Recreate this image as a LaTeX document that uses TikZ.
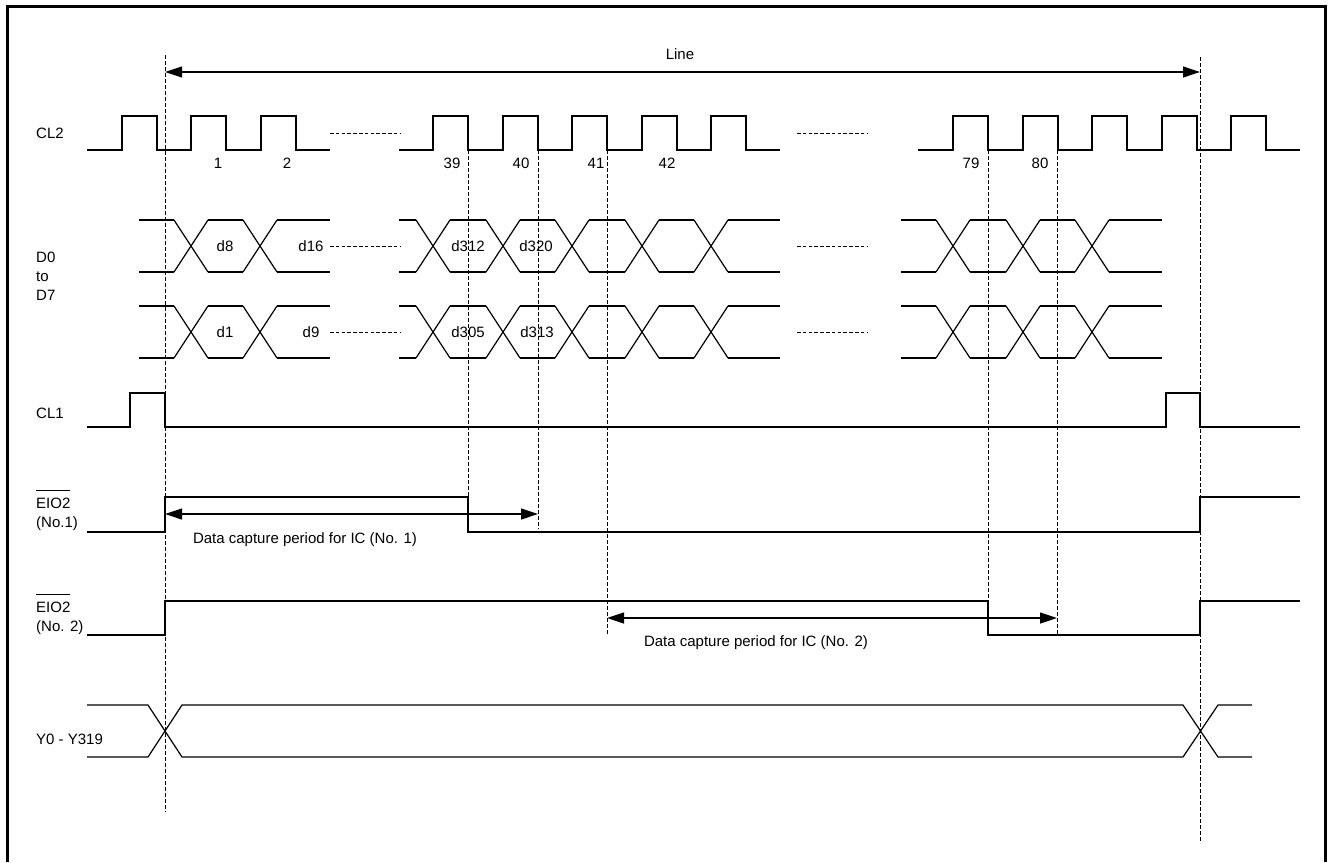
\documentclass[tikz,border=0pt]{standalone}
\usepackage{fontspec}
\setmainfont{Liberation Sans}
\usetikzlibrary{arrows.meta}
\newcommand{\barsig}[1]{\vphantom{#1}\smash{$\overline{\hbox{\rule{0pt}{16.5pt}#1}}$}}

\begin{document}
\begin{tikzpicture}[
    x=1pt, y=-1pt,
    signal/.style={line width=1.2pt, line join=miter},
    guide/.style={dash pattern=on 4pt off 2pt, line width=0.9pt},
    gap/.style={dash pattern=on 3.5pt off 2.3pt, line width=0.9pt},
    span/.style={{Triangle[length=17pt, width=11pt]}-{Triangle[length=17pt, width=11pt]}, line width=1.2pt},
    lbl/.style={font=\fontsize{15}{19}\selectfont, inner sep=0pt},
    signame/.style={lbl, anchor=west, align=left},
]
\useasboundingbox (0,0) rectangle (1330,862);
\draw[line width=3pt] (7,862) -- (7,6) -- (1325,6) -- (1325,862);

% signal names
\node[signame] (ncl2) at (36,133) {CL2};
\node[signame] (nd) at (36,276) {D0\\to\\D7};
\node[signame] (ncl1) at (36,413) {CL1};
\node[signame] (neio1) at (36,514) {\barsig{EIO2}\\(No.1)};
\node[signame] (neio2) at (36,618) {\barsig{EIO2}\\(No. 2)};
\node[signame] (ny) at (36,739) {Y0 - Y319};

% guide lines
\foreach \n/\x/\ya/\yb in {gs/165/55/812, g39/468/150/497, g40/538/150/529,
    g41/607/150/634, g79/988/150/601, g80/1057/150/634, ge/1200/57/843} {
  \coordinate (\n) at (\x,\ya);
  \draw[guide] (\x,\ya) -- (\x,\yb);
}

% CL2
\draw[signal] (87,150) foreach \r in {122,191,261} { -- (\r,150) -- (\r,116) -- (\r+35,116) -- (\r+35,150) } -- (330,150);
\draw[signal] (399,150) foreach \r in {433,503,572,642,711} { -- (\r,150) -- (\r,116) -- (\r+35,116) -- (\r+35,150) } -- (780,150);
\draw[signal] (918,150) foreach \r in {953,1023,1092,1162,1231} { -- (\r,150) -- (\r,116) -- (\r+35,116) -- (\r+35,150) } -- (1300,150);
\foreach \t/\x in {1/218, 2/287, 39/452, 40/521, 41/596, 42/667, 79/971, 80/1040}
  \node[lbl] (k\t) at (\x,163) {\t};

% D0 to D7
\foreach \t/\b in {220/272, 306/358} {
  \foreach \c in {191,260,433,503,572,642,711,953,1023,1092}
    \draw[signal] (\c-17,\t) -- (\c+17,\b) (\c-17,\b) -- (\c+17,\t);
  \foreach \s/\e in {139/174, 208/243, 277/330, 399/416, 450/486, 520/555,
      589/625, 659/694, 728/780, 901/936, 970/1006, 1040/1075, 1109/1162}
    \draw[signal] (\s,\t) -- (\e,\t) (\s,\b) -- (\e,\b);
}
\foreach \y in {133,246,332} {
  \draw[gap] (330,\y) -- (400,\y);
  \draw[gap] (797,\y) -- (867,\y);
}
\node[lbl] (d8) at (225,246) {d8};
\node[lbl] (d16) at (311,246) {d16};
\node[lbl] (d312) at (468,246) {d312};
\node[lbl] (d320) at (536,246) {d320};
\node[lbl] (d1) at (225,332) {d1};
\node[lbl] (d9) at (311,332) {d9};
\node[lbl] (d305) at (468,332) {d305};
\node[lbl] (d313) at (537,332) {d313};

% CL1
\draw[signal] (87,427) -- (130,427) -- (130,393) -- (165,393) -- (165,427) -- (1166,427)
  -- (1166,393) -- (1200,393) -- (1200,427) -- (1300,427);

% EIO2 (No.1)
\draw[signal] (87,532) -- (165,532) -- (165,497) -- (468,497) -- (468,532) -- (1200,532)
  -- (1200,497) -- (1300,497);
\draw[span] (gs |- 0,514) -- (g40 |- 0,514);
\node[lbl] (cap1) at (305,540) {Data capture period for IC (No. 1)};

% EIO2 (No.2)
\draw[signal] (87,635) -- (165,635) -- (165,601) -- (988,601) -- (988,635) -- (1200,635)
  -- (1200,601) -- (1300,601);
\draw[span] (g41 |- 0,618) -- (g80 |- 0,618);
\node[lbl] (cap2) at (756,643) {Data capture period for IC (No. 2)};

% Y0 - Y319
\draw[signal] (87,705) -- (148,705) -- (182,757) -- (1183,757) -- (1218,705) -- (1252,705);
\draw[signal] (87,757) -- (148,757) -- (182,705) -- (1183,705) -- (1218,757) -- (1252,757);

% line period
\draw[span] (gs |- 0,72) -- (ge |- 0,72);
\node[lbl] (line) at (680,54) {Line};
\end{tikzpicture}
\end{document}
